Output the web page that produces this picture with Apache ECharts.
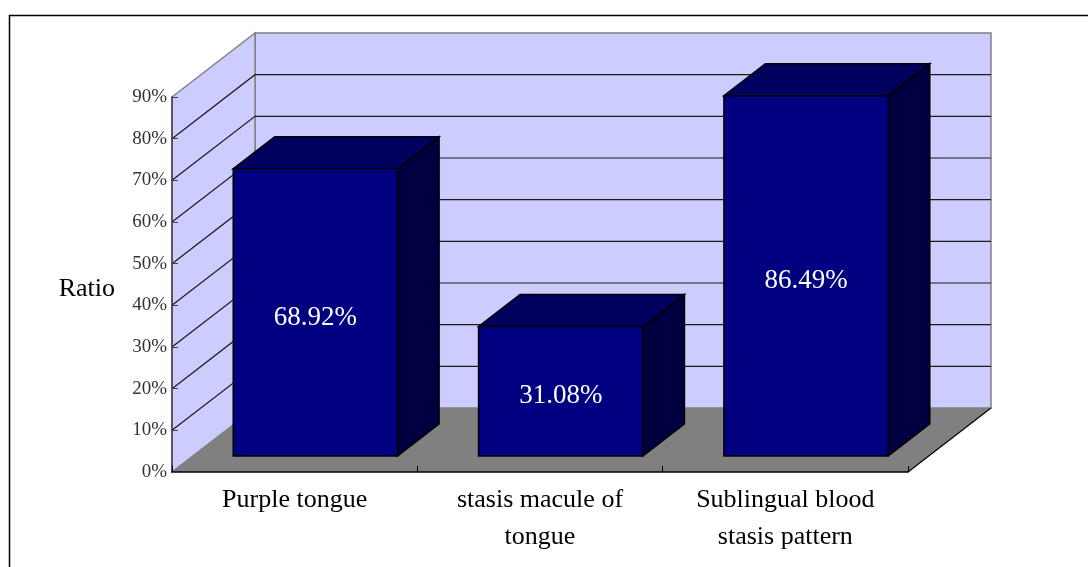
<!DOCTYPE html>
<html>
<head>
<meta charset="utf-8">
<script src="https://cdn.jsdelivr.net/npm/echarts@6/dist/echarts.min.js"></script>
<style>
html,body{margin:0;padding:0;background:#fff;}
#chart{width:1088px;height:567px;}
</style>
</head>
<body>
<div id="chart"></div>
<script>
// ---- data ----
const categories = ['Purple tongue', 'stasis macule of\ntongue', 'Sublingual blood\nstasis pattern'];
const ratios = [68.92, 31.08, 86.49];
const valueLabels = ['68.92%', '31.08%', '86.49%'];
const yMin = 0, yMax = 90, yStep = 10;
const wallGridValues = [10, 20, 30, 40, 50, 60, 70, 80];

// ---- style constants ----
const DX = 83, DY = 64;            // 3D depth offset
const BAR_FRONT = 0.25, BAR_BACK = 0.75;
const FONT = '"Liberation Serif", "Times New Roman", serif';

const chart = echarts.init(document.getElementById('chart'), null, {renderer: 'canvas'});

function wallsRender(params, api) {
  const cs = params.coordSys;
  const x0 = cs.x, x1 = cs.x + cs.width, yT = cs.y, yB = cs.y + cs.height;
  const children = [];
  children.push({type: 'polygon', shape: {points: [[x0 + DX, yT - DY], [x1 + DX, yT - DY], [x1 + DX, yB - DY], [x0 + DX, yB - DY]]},
    style: {fill: '#CCCCFF', stroke: '#808080', lineWidth: 1.5}});
  children.push({type: 'polygon', shape: {points: [[x0, yT], [x0 + DX, yT - DY], [x0 + DX, yB - DY], [x0, yB]]},
    style: {fill: '#CCCCFF', stroke: '#808080', lineWidth: 1.5}});
  wallGridValues.forEach(v => {
    const y = api.coord([0, v])[1];
    children.push({type: 'polyline', shape: {points: [[x0, y], [x0 + DX, y - DY], [x1 + DX, y - DY]]},
      style: {fill: null, stroke: '#1a1a1a', lineWidth: 1.2}});
  });
  children.push({type: 'polygon', shape: {points: [[x0, yB], [x1, yB], [x1 + DX, yB - DY], [x0 + DX, yB - DY]]},
    style: {fill: '#808080', stroke: null}});
  children.push({type: 'polyline', shape: {points: [[x1, yB], [x1 + DX, yB - DY]]},
    style: {fill: null, stroke: '#000', lineWidth: 1.2}});
  children.push({type: 'polyline', shape: {points: [[x0, yB], [x0 + DX, yB - DY]]},
    style: {fill: null, stroke: '#808080', lineWidth: 1}});
  return {type: 'group', children};
}

function barRender(params, api) {
  const idx = api.value(0), val = api.value(1);
  const base = api.coord([idx, 0]);
  const top = api.coord([idx, val]);
  const band = api.size([1, 0])[0];
  const w = band * 0.67;
  const fx = DX * BAR_FRONT, fy = -DY * BAR_FRONT;
  const dx = DX * (BAR_BACK - BAR_FRONT), dy = -DY * (BAR_BACK - BAR_FRONT);
  const xa = base[0] - w / 2 + fx, xb = xa + w;
  const yb = base[1] + fy, yt = top[1] + fy;
  const stroke = {stroke: '#000', lineWidth: 1.5, lineJoin: 'miter'};
  return {type: 'group', children: [
    {type: 'polygon', shape: {points: [[xb, yt], [xb + dx, yt + dy], [xb + dx, yb + dy], [xb, yb]]},
      style: Object.assign({fill: '#000040'}, stroke)},
    {type: 'polygon', shape: {points: [[xa, yt], [xb, yt], [xb + dx, yt + dy], [xa + dx, yt + dy]]},
      style: Object.assign({fill: '#00005E'}, stroke)},
    {type: 'rect', shape: {x: xa, y: yt, width: w, height: yb - yt},
      style: Object.assign({fill: '#000080'}, stroke)},
    {type: 'text', x: (xa + xb) / 2, y: (yt + yb) / 2 + 5,
      style: {text: valueLabels[params.dataIndex], fill: '#fff', font: '27px ' + FONT, align: 'center', verticalAlign: 'middle'}}
  ]};
}

chart.setOption({
  animation: false,
  backgroundColor: '#fff',
  graphic: [{type: 'rect', shape: {x: 9.5, y: 15.5, width: 1200, height: 700},
    style: {fill: null, stroke: '#000', lineWidth: 1.5}, z: -10}],
  grid: {left: 172, top: 97, width: 736, height: 375, containLabel: false},
  xAxis: {
    type: 'category', data: categories, boundaryGap: true,
    axisLine: {show: true, lineStyle: {color: '#000', width: 1.5}},
    axisTick: {show: true, inside: true, length: 6, lineStyle: {color: '#000'}},
    axisLabel: {fontFamily: FONT, fontSize: 26, color: '#000', lineHeight: 37, margin: 10, interval: 0},
    splitLine: {show: false}, z: 10
  },
  yAxis: {
    type: 'value', min: yMin, max: yMax, interval: yStep,
    name: 'Ratio', nameLocation: 'middle', nameRotate: 0, nameGap: 57,
    nameTextStyle: {fontFamily: FONT, fontSize: 26, color: '#000', verticalAlign: 'top', lineHeight: 10},
    axisLine: {show: true, lineStyle: {color: '#404040', width: 1.5}},
    axisTick: {show: true, inside: true, length: 6, lineStyle: {color: '#404040'}},
    axisLabel: {fontFamily: FONT, fontSize: 19, color: '#333', margin: 5, formatter: '{value}%'},
    splitLine: {show: false}, z: 10
  },
  series: [
    {type: 'custom', name: 'walls', renderItem: wallsRender, data: [[0, 0]], z: 1, silent: true},
    {type: 'custom', name: 'Ratio', renderItem: barRender, data: ratios.map((v, i) => [i, v]),
      encode: {x: 0, y: 1}, z: 3}
  ]
});
</script>
</body>
</html>
